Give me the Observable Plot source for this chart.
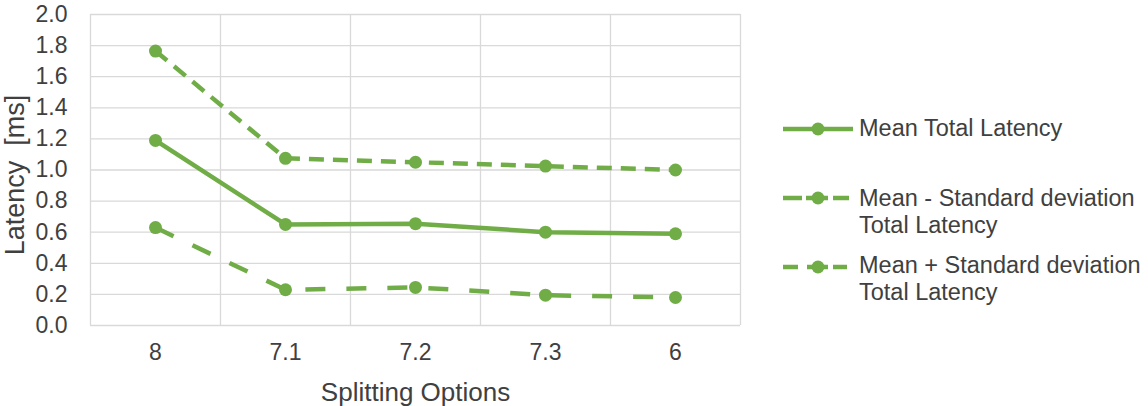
<!DOCTYPE html>
<html><head><meta charset="utf-8">
<script src="https://cdn.jsdelivr.net/npm/d3@7"></script>
<script src="https://cdn.jsdelivr.net/npm/@observablehq/plot@0.6"></script>
<style>
body{margin:0;background:#fff;}
#wrap{position:relative;width:1148px;height:406px;font-family:"Liberation Sans",Arial,sans-serif;}
#legend{position:absolute;left:0;top:0;}
</style></head><body><div id="wrap"></div>
<script>
const categories = ["8", "7.1", "7.2", "7.3", "6"];
const meanLatency = [1.19, 0.65, 0.655, 0.60, 0.59];
const meanMinusSD = [0.63, 0.23, 0.245, 0.195, 0.18];
const meanPlusSD = [1.765, 1.075, 1.05, 1.025, 1.0];
const seriesNames = ["Mean Total Latency", "Mean - Standard deviation Total Latency", "Mean + Standard deviation Total Latency"];
const legendLines = [["Mean Total Latency"], ["Mean - Standard deviation", "Total Latency"], ["Mean + Standard deviation", "Total Latency"]];
const yTicks = [0, 0.2, 0.4, 0.6, 0.8, 1.0, 1.2, 1.4, 1.6, 1.8, 2.0];
const xTitle = "Splitting Options";
const yTitle = "Latency\u00a0 [ms]";

const green = "#70AD47";
const gridColor = "#d9d9d9";
const textColor = "#404040";
const font = "'Liberation Sans', Arial, sans-serif";
const dashes = [null, "20,21", "15,9"];
const seriesValues = [meanLatency, meanMinusSD, meanPlusSD];

const idx = categories.map((_, i) => i);
const bounds = d3.range(-0.5, categories.length, 1);
const rows = seriesValues.map((vals, s) => vals.map((v, i) => ({i, v, s: seriesNames[s]})));

const marks = [
  Plot.ruleX(bounds, {stroke: gridColor, strokeWidth: 1.3}),
  Plot.ruleY(yTicks, {stroke: gridColor, strokeWidth: 1.3}),
  Plot.axisY(yTicks, {tickSize: 0, tickPadding: 23, tickFormat: d => d.toFixed(1), fontSize: 23, color: textColor, label: null}),
  Plot.axisX(idx, {tickSize: 0, tickPadding: 18, tickFormat: i => categories[i], fontSize: 23, color: textColor, label: null}),
  Plot.text([xTitle], {text: d => d, frameAnchor: "bottom", lineAnchor: "bottom", dy: 75, fontSize: 26, fill: textColor}),
  Plot.text([yTitle], {text: d => d, frameAnchor: "left", rotate: -90, lineAnchor: "middle", textAnchor: "middle", dx: -75.5, dy: 5, fontSize: 27, fill: textColor})
];
rows.forEach((r, s) => {
  marks.push(Plot.line(r, {x: "i", y: "v", stroke: green, strokeWidth: 4.5, strokeDasharray: dashes[s] || undefined, strokeLinecap: "butt", strokeLinejoin: "round"}));
  marks.push(Plot.dot(r, {x: "i", y: "v", r: 6.5, fill: green, stroke: "none"}));
});

const chart = Plot.plot({
  width: 1148, height: 406,
  marginLeft: 90, marginRight: 408, marginTop: 14, marginBottom: 81,
  style: {fontFamily: font, background: "#fff", overflow: "visible"},
  x: {domain: [-0.5, categories.length - 0.5], axis: null},
  y: {domain: [0, 2], axis: null},
  marks
});
const wrap = document.getElementById("wrap");
wrap.appendChild(chart);

// legend
const ns = "http://www.w3.org/2000/svg";
const lg = document.createElementNS(ns, "svg");
lg.setAttribute("id", "legend");
lg.setAttribute("width", 1148); lg.setAttribute("height", 406);
const itemY = [129, 198, 267];
const textY = [136, 206, 273];
const legendDash = [null, "19,4,22,5,16", "15,9,21,5,14"];
const legendEnd = [853, 849, 847];
legendLines.forEach((lines, s) => {
  const y = itemY[s];
  const ln = document.createElementNS(ns, "line");
  ln.setAttribute("x1", 783); ln.setAttribute("x2", legendEnd[s]);
  ln.setAttribute("y1", y); ln.setAttribute("y2", y);
  ln.setAttribute("stroke", green); ln.setAttribute("stroke-width", 4.5);
  if (legendDash[s]) ln.setAttribute("stroke-dasharray", legendDash[s]);
  lg.appendChild(ln);
  const c = document.createElementNS(ns, "circle");
  c.setAttribute("cx", 818); c.setAttribute("cy", y); c.setAttribute("r", 6.5);
  c.setAttribute("fill", green);
  lg.appendChild(c);
  lines.forEach((t, k) => {
    const tx = document.createElementNS(ns, "text");
    tx.setAttribute("x", 859); tx.setAttribute("y", textY[s] + k * 27);
    tx.setAttribute("font-size", 23.5);
    tx.setAttribute("fill", textColor);
    tx.setAttribute("font-family", font);
    tx.textContent = t;
    lg.appendChild(tx);
  });
});
wrap.appendChild(lg);
</script></body></html>
